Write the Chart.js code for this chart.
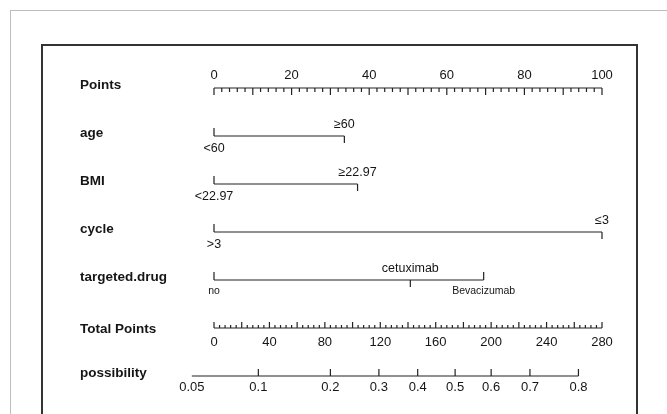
<!DOCTYPE html>
<html>
<head>
<meta charset="utf-8">
<script src="https://cdn.jsdelivr.net/npm/chart.js@4/dist/chart.umd.min.js"></script>
<style>
  html, body { margin: 0; padding: 0; background: #fff; }
  #wrap { width: 667px; height: 414px; }
</style>
</head>
<body>
<div id="wrap"><canvas id="nomo" width="667" height="414"></canvas></div>
<script>
// Nomogram data
const rowNames = ["Points", "age", "BMI", "cycle", "targeted.drug", "Total Points", "possibility"];

const pointsTicks = [0, 20, 40, 60, 80, 100];

const ageLabels = ["<60", "\u226560"];
const agePoints = [0, 33.6];

const bmiLabels = ["<22.97", "\u226522.97"];
const bmiPoints = [0, 37];

const cycleLabels = [">3", "\u22643"];
const cyclePoints = [0, 100];

const drugLabels = ["no", "cetuximab", "Bevacizumab"];
const drugPoints = [0, 50.6, 69.5];

const totalTicks = [0, 40, 80, 120, 160, 200, 240, 280];
const totalMax = 280;

const possLabels = ["0.05", "0.1", "0.2", "0.3", "0.4", "0.5", "0.6", "0.7", "0.8"];
const possTotalPoints = [-16, 32, 84, 119, 147, 174, 200, 228, 263];

// helpers
const ROW_PX = 48;
const px = (p) => p / ROW_PX;           // pixels -> y units
const totToX = (t) => t * 100 / totalMax; // total points -> points scale
const FONT = '"Liberation Sans", Arial, Helvetica, sans-serif';
const LINE = "#222";

const categoryRows = [
    { row: 1, labels: ageLabels, pts: agePoints },
    { row: 2, labels: bmiLabels, pts: bmiPoints },
    { row: 3, labels: cycleLabels, pts: cyclePoints },
    { row: 4, labels: drugLabels, pts: drugPoints }
];

function lineSet(data) {
    return {
        data: data,
        borderColor: LINE,
        borderWidth: 1.2,
        pointRadius: 0,
        spanGaps: false,
        clip: false,
        tension: 0
    };
}

// build segments: each tick = two points then a gap
function tickSegs(xs, row, lenPx) {
    const out = [];
    xs.forEach((x, i) => {
        const l = typeof lenPx === "function" ? lenPx(i, x) : lenPx;
        out.push({ x: x, y: row }, { x: x, y: row + px(l) }, { x: x, y: null });
    });
    return out;
}

const datasets = [];

// Points axis
datasets.push(lineSet([{ x: 0, y: 0 }, { x: 100, y: 0 }]));
const ptMinor = [];
for (let v = 0; v <= 100; v += 2) ptMinor.push(v);
datasets.push(lineSet(tickSegs(ptMinor, 0, (i, v) => (v % 10 === 0 ? 7 : 4))));

// categorical rows
categoryRows.forEach((r) => {
    const lo = Math.min(...r.pts), hi = Math.max(...r.pts);
    datasets.push(lineSet([{ x: lo, y: r.row }, { x: hi, y: r.row }]));
    // tick goes opposite to the label side: first label below -> tick up
    datasets.push(lineSet(tickSegs(r.pts, r.row, (i) => (i % 2 === 0 ? -8 : 7))));
});

// Total points axis
datasets.push(lineSet([{ x: 0, y: 5 }, { x: 100, y: 5 }]));
const totMinor = [];
for (let v = 0; v <= totalMax; v += 4) totMinor.push(totToX(v));
datasets.push(lineSet(tickSegs(totMinor, 5, (i) => ((i * 4) % 20 === 0 ? -6 : -3))));

// possibility axis
const possX = possTotalPoints.map(totToX);
datasets.push(lineSet([{ x: possX[0], y: 6 }, { x: possX[possX.length - 1], y: 6 }]));
datasets.push(lineSet(tickSegs(possX, 6, -7)));

const textPlugin = {
    id: "nomoText",
    beforeDraw(chart) {
        const ctx = chart.ctx;
        ctx.save();
        ctx.fillStyle = "#fff";
        ctx.fillRect(0, 0, chart.width, chart.height);
        ctx.strokeStyle = "#bdbdbd";
        ctx.lineWidth = 1;
        ctx.strokeRect(10.5, 10.5, 720, 500);
        ctx.strokeStyle = "#333";
        ctx.lineWidth = 2;
        ctx.strokeRect(42, 45, 595, 420);
        ctx.restore();
    },
    afterDatasetsDraw(chart) {
        const ctx = chart.ctx;
        const xs = chart.scales.x, ys = chart.scales.y;
        const X = (v) => xs.getPixelForValue(v);
        const Y = (r) => ys.getPixelForValue(r);
        ctx.save();
        ctx.fillStyle = "#151515";
        ctx.textBaseline = "middle";

        // row names
        ctx.font = "bold 13.5px " + FONT;
        ctx.textAlign = "left";
        rowNames.forEach((n, i) => {
            ctx.fillText(n, 80, Y(i) + (i === 5 ? 1 : -3));
        });

        ctx.textAlign = "center";
        ctx.font = "13px " + FONT;
        pointsTicks.forEach((t) => ctx.fillText(String(t), X(t), Y(0) - 13));
        totalTicks.forEach((t) => ctx.fillText(String(t), X(totToX(t)), Y(5) + 14));
        possLabels.forEach((l, i) => ctx.fillText(l, X(possX[i]), Y(6) + 11));

        // category labels: alternate below / above
        categoryRows.forEach((r) => {
            r.labels.forEach((l, i) => {
                const small = (l === "no" || l === "Bevacizumab");
                ctx.font = (small ? "10.5px " : "12.5px ") + FONT;
                const dy = i % 2 === 0 ? (small ? 11 : 13) : -11;
                ctx.fillText(l, X(r.pts[i]), Y(r.row) + dy);
            });
        });
        ctx.restore();
    }
};

new Chart(document.getElementById("nomo"), {
    type: "line",
    data: { datasets: datasets },
    options: {
        responsive: false,
        animation: false,
        events: [],
        layout: { padding: { left: 214, right: 65, top: 64, bottom: 14 } },
        plugins: { legend: { display: false }, tooltip: { enabled: false } },
        scales: {
            x: { type: "linear", min: 0, max: 100, display: false },
            y: { type: "linear", min: -0.5, max: 6.5, reverse: true, display: false }
        }
    },
    plugins: [textPlugin]
});
</script>
</body>
</html>
